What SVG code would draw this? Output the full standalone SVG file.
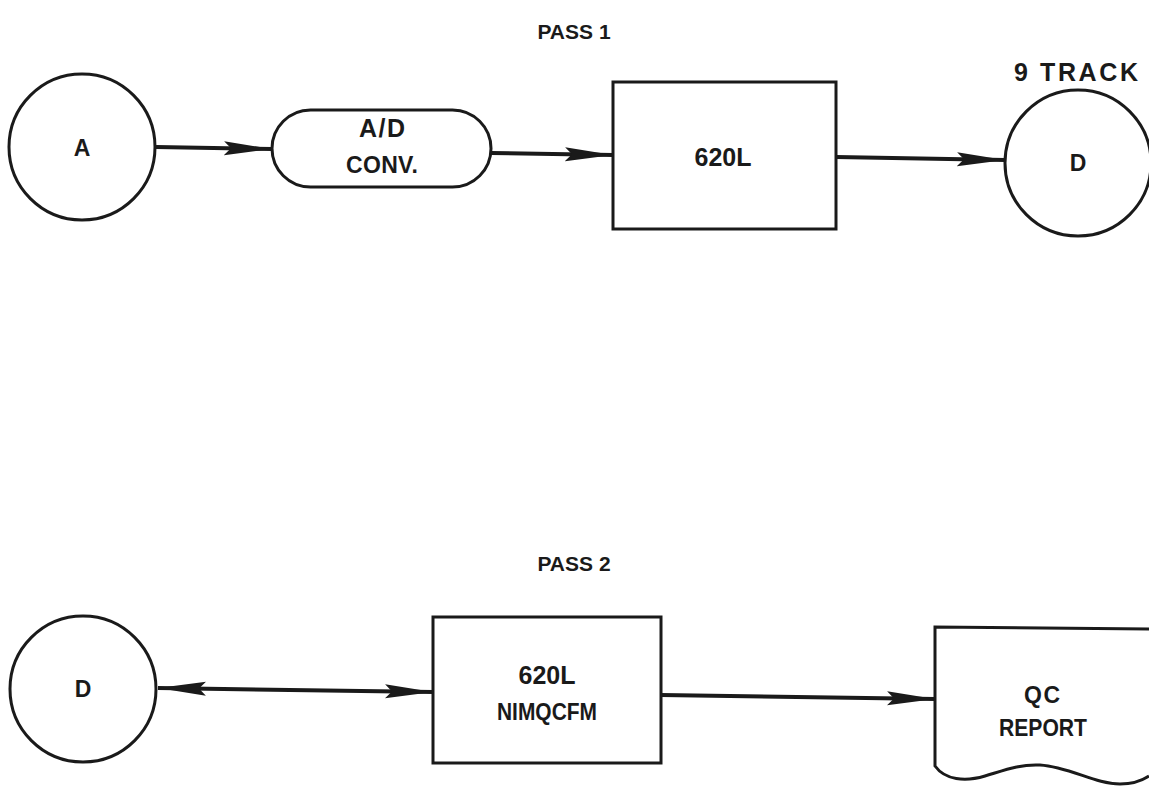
<svg xmlns="http://www.w3.org/2000/svg" width="1149" height="787" viewBox="0 0 1149 787">
<style>
.s{fill:none;stroke:#1a1a1a;stroke-width:3}
.c{fill:none;stroke:#1a1a1a;stroke-width:4}
.t{font-family:"Liberation Sans",Arial,sans-serif;font-weight:bold;font-size:23px;fill:#1a1a1a;text-anchor:middle}
.h{font-size:21px}
.b{font-size:25px}
</style>
<defs>
<marker id="ah" markerUnits="userSpaceOnUse" markerWidth="50" markerHeight="20" refX="48" refY="10" orient="auto-start-reverse">
<path d="M0,3 L48,10 L0,17 L7,10 Z" fill="#1a1a1a"/>
</marker>
</defs>
<rect width="1149" height="787" fill="#fff"/>
<text class="t h" x="574" y="39">PASS 1</text>
<text class="t h" x="574" y="571">PASS 2</text>
<g id="nA"><circle class="s" cx="82" cy="147" r="73"/><text class="t" x="82" y="156">A</text></g>
<g id="nAD"><rect class="s" x="272" y="110" width="219" height="77" rx="38.5"/><text class="t b" x="382" y="137" textLength="46" lengthAdjust="spacing">A/D</text><text class="t" x="382" y="173" textLength="72" lengthAdjust="spacing">CONV.</text></g>
<g id="n620"><rect class="s" x="613" y="82" width="223" height="147"/><text class="t b" x="723" y="166">620L</text></g>
<g id="nD1"><circle class="s" cx="1078" cy="163" r="73"/><text class="t" x="1078" y="171">D</text><text class="t b" x="1076" y="81" textLength="124" lengthAdjust="spacing">9 TRACK</text></g>
<g id="nD2"><circle class="s" cx="83" cy="689" r="73"/><text class="t" x="83" y="697">D</text></g>
<g id="nNIM"><rect class="s" x="433" y="617" width="228" height="146"/><text class="t b" x="547" y="684">620L</text><text class="t" x="547" y="720" textLength="100" lengthAdjust="spacingAndGlyphs">NIMQCFM</text></g>
<g id="nQC"><path class="s" d="M1149,629 L935,627 L935,766 C945,780 965,782 985,776 C1005,770 1020,764 1040,765 C1070,767 1095,784 1120,784 C1135,784 1143,780 1149,776"/><text class="t" x="1042" y="703" textLength="36" lengthAdjust="spacing">QC</text><text class="t" x="1043" y="736" textLength="88" lengthAdjust="spacingAndGlyphs">REPORT</text></g>
<g id="connectors">
<line class="c" x1="156" y1="147" x2="272" y2="149" marker-end="url(#ah)"/>
<line class="c" x1="491" y1="153" x2="613" y2="155" marker-end="url(#ah)"/>
<line class="c" x1="836" y1="157" x2="1005" y2="160" marker-end="url(#ah)"/>
<line class="c" x1="158" y1="688" x2="433" y2="692" marker-start="url(#ah)" marker-end="url(#ah)"/>
<line class="c" x1="661" y1="695" x2="935" y2="699" marker-end="url(#ah)"/>
</g>
</svg>
